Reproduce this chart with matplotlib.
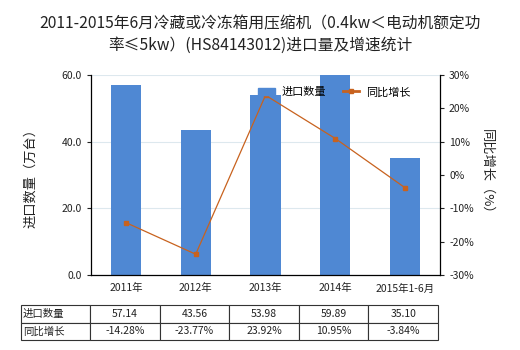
import matplotlib
matplotlib.use("Agg")
import matplotlib.pyplot as plt
from matplotlib.patches import Patch
from matplotlib.lines import Line2D

plt.rcParams['font.family'] = ['Noto Sans CJK SC', 'DejaVu Sans']

# data
years = ["2011年", "2012年", "2013年", "2014年", "2015年1-6月"]
volume = [57.14, 43.56, 53.98, 59.89, 35.10]
growth = [-14.28, -23.77, 23.92, 10.95, -3.84]
row_labels = ["进口数量", "同比增长"]

bar_color = '#4f88d3'
line_color = '#c8621e'
text_color = '#222222'

fig = plt.figure(figsize=(5.2, 3.5), dpi=100)
ax = fig.add_axes([91 / 520, 1 - 275 / 350, 349 / 520, 200 / 350])

x = list(range(len(years)))
ax.bar(x, volume, width=0.43, color=bar_color, zorder=2)
ax.set_xlim(-0.5, len(years) - 0.5)
ax.set_ylim(0, 60)
ax.set_yticks([0, 20, 40, 60])
ax.set_yticklabels(["0.0", "20.0", "40.0", "60.0"])
ax.set_xticks(x)
ax.set_xticklabels(years)
ax.grid(axis='y', color='#dde8ee', linewidth=0.8, zorder=0)
ax.tick_params(axis='both', labelsize=7.5, colors=text_color, length=3, width=0.8)
ax.tick_params(axis='x', length=0, pad=6)
for side in ['top', 'right']:
    ax.spines[side].set_visible(False)
ax.spines['left'].set_linewidth(0.9)
ax.spines['bottom'].set_linewidth(0.9)
ax.set_ylabel("进口数量（万台）", fontsize=9.5, color=text_color, labelpad=18)

# right axis for growth
ax2 = ax.twinx()
ax2.plot(x, growth, color=line_color, linewidth=0.9, marker='s', markersize=3.5, zorder=3)
ax2.set_ylim(-30, 30)
ax2.set_yticks(range(-30, 31, 10))
ax2.set_yticklabels([f"{v}%" for v in range(-30, 31, 10)])
ax2.tick_params(axis='y', labelsize=7.5, colors=text_color, length=3, width=0.8)
for side in ['top', 'left', 'bottom']:
    ax2.spines[side].set_visible(False)
ax2.spines['right'].set_linewidth(0.9)
ax2.set_ylabel("同比增长（%）", fontsize=9.5, color=text_color, rotation=270, labelpad=14)

# legend
handles = [Patch(color=bar_color, label="进口数量"),
           Line2D([0], [0], color=line_color, marker='s', markersize=3.5, linewidth=2, label="同比增长")]
ax2.legend(handles=handles, loc='upper left', bbox_to_anchor=(0.45, 0.99), ncol=2, frameon=False,
           fontsize=8, handlelength=1.5, columnspacing=1.5, handletextpad=0.6)

# title
fig.text(0.5, 0.955, "2011-2015年6月冷藏或冷冻箱用压缩机（0.4kw＜电动机额定功\n率≤5kw）(HS84143012)进口量及增速统计",
         ha='center', va='top', fontsize=11.3, color=text_color, linespacing=1.35)

# data table under the chart
cells = [[row_labels[0]] + [f"{v:.2f}" for v in volume],
         [row_labels[1]] + [f"{v:.2f}%" for v in growth]]
col_w = [69] + [69.6] * len(years)
total = sum(col_w)
tbl = ax.table(cellText=cells, colWidths=[w / total for w in col_w],
               bbox=[-70 / 349, -0.325, total / 349, 0.175], cellLoc='center')
tbl.auto_set_font_size(False)
tbl.set_fontsize(7.5)
for (r, c), cell in tbl.get_celld().items():
    cell.set_linewidth(0.8)
    cell.set_edgecolor('#333333')
    cell.get_text().set_color(text_color)
    if c == 0:
        cell.get_text().set_horizontalalignment('left')
        cell.PAD = 0.03

fig.savefig("out.png", dpi=100)
